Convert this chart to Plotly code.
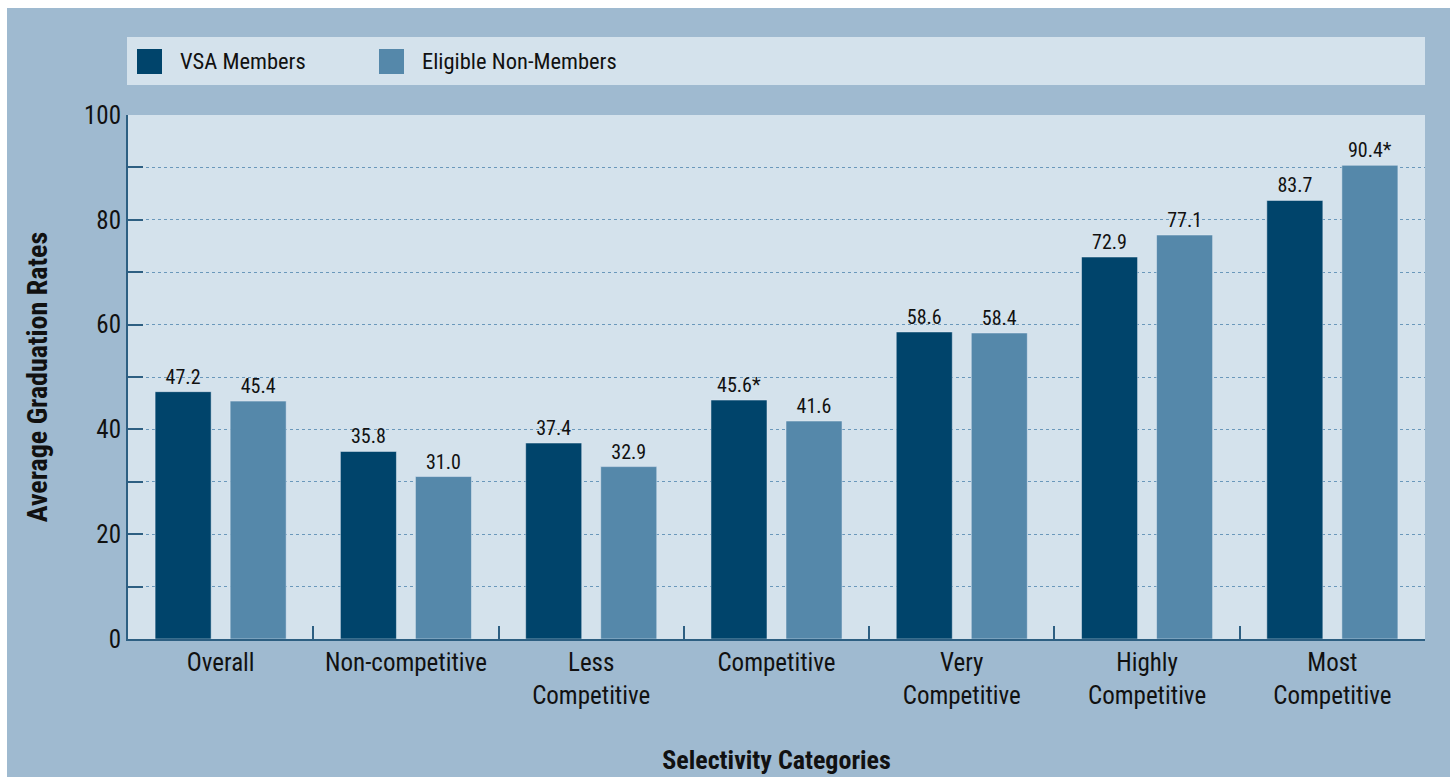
import plotly.graph_objects as go

categories = ["Overall", "Non-competitive", "Less<br>Competitive", "Competitive",
              "Very<br>Competitive", "Highly<br>Competitive", "Most<br>Competitive"]
series_names = ["VSA Members", "Eligible Non-Members"]
vsa_members = [47.2, 35.8, 37.4, 45.6, 58.6, 72.9, 83.7]
non_members = [45.4, 31.0, 32.9, 41.6, 58.4, 77.1, 90.4]
vsa_labels = ["47.2", "35.8", "37.4", "45.6*", "58.6", "72.9", "83.7"]
non_labels = ["45.4", "31.0", "32.9", "41.6", "58.4", "77.1", "90.4*"]
y_tickvals = [0, 10, 20, 30, 40, 50, 60, 70, 80, 90, 100]
y_ticktext = ["0", "", "20", "", "40", "", "60", "", "80", "", "100"]

C_VSA = "#00446b"
C_NON = "#5588aa"
OUTER = "#9fbad0"
INNER = "#d4e2ec"
AXIS = "#2d5f82"
FONT = "Liberation Sans Narrow, Arial Narrow, Roboto Condensed, Liberation Sans, sans-serif"

W, H = 1450, 777
L, R, T, B = 128, 25, 115, 138
pw, ph = W - L - R, H - T - B

def px_x(x):
    return (x - L) / pw

def px_y(y):
    return (H - B - y) / ph

fig = go.Figure()
fig.add_trace(go.Bar(x=categories, y=vsa_members, name=series_names[0], marker_color=C_VSA,
                     text=vsa_labels, textposition="outside", cliponaxis=False,
                     textfont=dict(size=20, color="#111111", family=FONT)))
fig.add_trace(go.Bar(x=categories, y=non_members, name=series_names[1], marker_color=C_NON,
                     text=non_labels, textposition="outside", cliponaxis=False,
                     textfont=dict(size=20, color="#111111", family=FONT)))

shapes = [
    dict(type="rect", xref="paper", yref="paper", x0=px_x(127), x1=px_x(1425),
         y0=px_y(85), y1=px_y(37), fillcolor=INNER, line=dict(width=0), layer="below"),
    dict(type="rect", xref="paper", yref="paper", x0=px_x(0), x1=px_x(W),
         y0=px_y(8), y1=px_y(0), fillcolor="white", line=dict(width=0), layer="above"),
    dict(type="rect", xref="paper", yref="paper", x0=px_x(0), x1=px_x(7),
         y0=px_y(H), y1=px_y(0), fillcolor="white", line=dict(width=0), layer="above"),
]
annotations = []
legend_x = [137, 379]
for name, color, lx in zip(series_names, [C_VSA, C_NON], legend_x):
    shapes.append(dict(type="rect", xref="paper", yref="paper", x0=px_x(lx), x1=px_x(lx + 25),
                       y0=px_y(74), y1=px_y(49), fillcolor=color, line=dict(width=0)))
    annotations.append(dict(text=name, xref="paper", yref="paper", x=px_x(lx + 41), y=px_y(61.5),
                            xanchor="left", yanchor="middle", showarrow=False,
                            font=dict(size=22.5, family=FONT, color="#111111")))

fig.update_layout(
    width=W, height=H,
    margin=dict(l=L, r=R, t=T, b=B, pad=0, autoexpand=False),
    paper_bgcolor=OUTER, plot_bgcolor=INNER,
    font=dict(family=FONT, size=25, color="#111111"),
    barmode="group", bargap=0.19, bargroupgap=0.253,
    shapes=shapes, annotations=annotations,
    showlegend=False,
    xaxis=dict(showline=True, linecolor=AXIS, linewidth=2, ticks="inside", ticklen=13,
               tickcolor=AXIS, tickwidth=2, tickson="boundaries", showgrid=False,
               automargin=False,
               tickfont=dict(size=25, family=FONT, color="#111111"),
               title=dict(text="<b>Selectivity Categories</b>", standoff=42,
                          font=dict(size=26, family=FONT, color="#111111"))),
    yaxis=dict(range=[0, 100], tickvals=y_tickvals, ticktext=y_ticktext,
               showline=True, linecolor=AXIS, linewidth=2, ticks="inside", ticklen=15,
               tickcolor=AXIS, tickwidth=2, showgrid=True, gridcolor="#6a98bb",
               griddash="3px,3px", gridwidth=1, zeroline=False, ticklabelstandoff=0,
               automargin=False,
               tickfont=dict(size=25, family=FONT, color="#111111"),
               title=dict(text="<b>Average Graduation Rates</b>", standoff=28,
                          font=dict(size=28, family=FONT, color="#111111"))),
)

fig.write_html("out.html")
